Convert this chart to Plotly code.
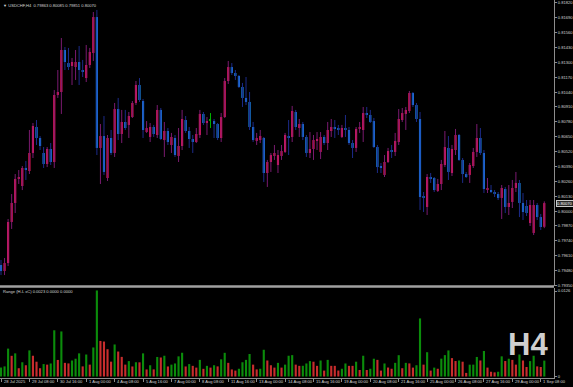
import plotly.graph_objects as go

# ---------------- data (USDCHF, H4) ----------------
opens = [0.79529, 0.79476, 0.79546, 0.79905, 0.80071, 0.80281, 0.80219, 0.80377, 0.80350, 0.80508,
         0.80735, 0.80639, 0.80508, 0.80412, 0.80543, 0.80429, 0.81015, 0.81041, 0.81408, 0.81294,
         0.81268, 0.81259, 0.81303, 0.81233, 0.81163, 0.81277, 0.81382, 0.81696, 0.80552, 0.80656,
         0.80289, 0.80639, 0.80508, 0.80892, 0.80674, 0.80779, 0.80753, 0.80822, 0.80945, 0.81102,
         0.80962, 0.80691, 0.80648, 0.80735, 0.80665, 0.80884, 0.80621, 0.80700, 0.80578, 0.80639,
         0.80482, 0.80569, 0.80796, 0.80700, 0.80630, 0.80604, 0.80665, 0.80849, 0.80770, 0.80796,
         0.80787, 0.80761, 0.80639, 0.80822, 0.81137, 0.81259, 0.81207, 0.81181, 0.81085, 0.80989,
         0.80954, 0.80735, 0.80613, 0.80621, 0.80639, 0.80333, 0.80429, 0.80482, 0.80403, 0.80482,
         0.80517, 0.80656, 0.80648, 0.80866, 0.80726, 0.80761, 0.80648, 0.80508, 0.80543, 0.80613,
         0.80517, 0.80648, 0.80595, 0.80700, 0.80735, 0.80726, 0.80648, 0.80726, 0.80709, 0.80595,
         0.80552, 0.80718, 0.80709, 0.80857, 0.80840, 0.80787, 0.80560, 0.80394, 0.80316, 0.80429,
         0.80525, 0.80517, 0.80604, 0.80796, 0.80849, 0.80875, 0.81032, 0.80927, 0.80805, 0.80123,
         0.80036, 0.80298, 0.80289, 0.80176, 0.80237, 0.80403, 0.80552, 0.80333, 0.80534, 0.80665,
         0.80447, 0.80324, 0.80316, 0.80394, 0.80517, 0.80639, 0.80508, 0.80193, 0.80184, 0.80167,
         0.80149, 0.80115, 0.80193, 0.80036, 0.80080, 0.80202, 0.80246, 0.80071, 0.80045, 0.79896,
         0.79809, 0.80053, 0.79948, 0.79863]
highs = [0.79573, 0.79590, 0.79931, 0.80149, 0.80324, 0.80359, 0.80394, 0.80438, 0.80709, 0.80770,
         0.80796, 0.80656, 0.80560, 0.80560, 0.80595, 0.81058, 0.81233, 0.81513, 0.81434, 0.81426,
         0.81338, 0.81408, 0.81443, 0.81321, 0.81452, 0.81426, 0.81740, 0.81758, 0.80761, 0.80831,
         0.80665, 0.80709, 0.80945, 0.80989, 0.80884, 0.80884, 0.80866, 0.80962, 0.81137, 0.81163,
         0.80980, 0.80787, 0.80770, 0.80753, 0.80927, 0.80901, 0.80779, 0.80726, 0.80683, 0.80665,
         0.80726, 0.80884, 0.80831, 0.80735, 0.80665, 0.80726, 0.80884, 0.80866, 0.80822, 0.80857,
         0.80805, 0.80770, 0.80857, 0.81163, 0.81312, 0.81294, 0.81233, 0.81190, 0.81120, 0.81172,
         0.81041, 0.80779, 0.80683, 0.80709, 0.80648, 0.80447, 0.80508, 0.80578, 0.80534, 0.80578,
         0.80683, 0.80796, 0.80919, 0.80884, 0.80805, 0.80779, 0.80665, 0.80691, 0.80665, 0.80691,
         0.80691, 0.80665, 0.80779, 0.80805, 0.80796, 0.80753, 0.80753, 0.80840, 0.80735, 0.80621,
         0.80735, 0.80779, 0.80910, 0.80910, 0.80884, 0.80814, 0.80578, 0.80420, 0.80490, 0.80552,
         0.80578, 0.80683, 0.80892, 0.80901, 0.80910, 0.81050, 0.81041, 0.80945, 0.80866, 0.80167,
         0.80324, 0.80333, 0.80298, 0.80281, 0.80447, 0.80700, 0.80656, 0.80578, 0.80718, 0.80674,
         0.80464, 0.80342, 0.80420, 0.80552, 0.80761, 0.80726, 0.80534, 0.80289, 0.80228, 0.80184,
         0.80167, 0.80228, 0.80211, 0.80228, 0.80272, 0.80342, 0.80272, 0.80158, 0.80097, 0.80097,
         0.80097, 0.80071, 0.79975, 0.80085]
lows = [0.79441, 0.79441, 0.79520, 0.79844, 0.79983, 0.80237, 0.80184, 0.80272, 0.80324, 0.80464,
        0.80578, 0.80534, 0.80377, 0.80385, 0.80403, 0.80377, 0.80989, 0.80849, 0.81233, 0.81233,
        0.81102, 0.81146, 0.81102, 0.81172, 0.81128, 0.81251, 0.81312, 0.80490, 0.80237, 0.80316,
        0.80263, 0.80490, 0.80473, 0.80621, 0.80595, 0.80709, 0.80639, 0.80814, 0.80927, 0.80954,
        0.80639, 0.80683, 0.80604, 0.80648, 0.80639, 0.80621, 0.80473, 0.80578, 0.80508, 0.80473,
        0.80429, 0.80534, 0.80683, 0.80552, 0.80508, 0.80595, 0.80639, 0.80753, 0.80665, 0.80726,
        0.80639, 0.80621, 0.80604, 0.80814, 0.81111, 0.81190, 0.81146, 0.81076, 0.80910, 0.80927,
        0.80709, 0.80604, 0.80578, 0.80595, 0.80254, 0.80211, 0.80342, 0.80447, 0.80333, 0.80447,
        0.80508, 0.80490, 0.80604, 0.80709, 0.80648, 0.80621, 0.80473, 0.80464, 0.80447, 0.80534,
        0.80455, 0.80578, 0.80534, 0.80648, 0.80639, 0.80665, 0.80639, 0.80648, 0.80578, 0.80464,
        0.80517, 0.80683, 0.80604, 0.80814, 0.80770, 0.80552, 0.80333, 0.80333, 0.80298, 0.80420,
        0.80464, 0.80482, 0.80578, 0.80779, 0.80709, 0.80857, 0.80910, 0.80779, 0.80010, 0.79992,
        0.79966, 0.80246, 0.80167, 0.80167, 0.80184, 0.80385, 0.80272, 0.80307, 0.80490, 0.80438,
        0.80246, 0.80289, 0.80246, 0.80377, 0.80473, 0.80490, 0.80158, 0.80158, 0.80158, 0.80123,
        0.80097, 0.79931, 0.79983, 0.79966, 0.80027, 0.80167, 0.79948, 0.79922, 0.79957, 0.79870,
        0.79791, 0.79922, 0.79835, 0.79851]
closes = [0.79476, 0.79546, 0.79905, 0.80071, 0.80281, 0.80298, 0.80377, 0.80359, 0.80508, 0.80744,
          0.80639, 0.80569, 0.80412, 0.80543, 0.80429, 0.81015, 0.81041, 0.81408, 0.81303, 0.81259,
          0.81303, 0.81303, 0.81233, 0.81216, 0.81277, 0.81391, 0.81696, 0.80552, 0.80656, 0.80342,
          0.80639, 0.80508, 0.80892, 0.80674, 0.80779, 0.80726, 0.80831, 0.80945, 0.81102, 0.80971,
          0.80709, 0.80726, 0.80735, 0.80674, 0.80884, 0.80630, 0.80700, 0.80604, 0.80648, 0.80490,
          0.80569, 0.80805, 0.80700, 0.80630, 0.80604, 0.80674, 0.80849, 0.80770, 0.80787, 0.80796,
          0.80761, 0.80639, 0.80822, 0.81137, 0.81259, 0.81207, 0.81181, 0.81085, 0.80989, 0.80954,
          0.80735, 0.80621, 0.80639, 0.80656, 0.80333, 0.80429, 0.80490, 0.80508, 0.80490, 0.80525,
          0.80665, 0.80648, 0.80875, 0.80735, 0.80761, 0.80648, 0.80508, 0.80543, 0.80621, 0.80630,
          0.80648, 0.80595, 0.80709, 0.80735, 0.80718, 0.80709, 0.80726, 0.80709, 0.80595, 0.80552,
          0.80718, 0.80735, 0.80857, 0.80840, 0.80779, 0.80560, 0.80385, 0.80385, 0.80429, 0.80525,
          0.80517, 0.80613, 0.80805, 0.80857, 0.80884, 0.81032, 0.80927, 0.80805, 0.80123, 0.80115,
          0.80298, 0.80281, 0.80184, 0.80237, 0.80412, 0.80560, 0.80342, 0.80543, 0.80665, 0.80447,
          0.80324, 0.80298, 0.80403, 0.80517, 0.80639, 0.80508, 0.80193, 0.80202, 0.80167, 0.80149,
          0.80115, 0.80202, 0.80036, 0.80071, 0.80202, 0.80246, 0.80071, 0.79992, 0.79983, 0.80053,
          0.80053, 0.79948, 0.79861, 0.80070]

time_labels = ["28 Jul 2025", "29 Jul 08:00", "30 Jul 16:00", "1 Aug 00:00", "4 Aug 08:00",
               "5 Aug 16:00", "7 Aug 00:00", "8 Aug 08:00", "11 Aug 16:00", "13 Aug 00:00",
               "14 Aug 08:00", "15 Aug 16:00", "19 Aug 00:00", "20 Aug 08:00", "21 Aug 16:00",
               "25 Aug 00:00", "26 Aug 08:00", "27 Aug 16:00", "29 Aug 00:00", "1 Sep 08:00"]
label_step = 8
price_ticks = [0.79350, 0.79480, 0.79610, 0.79740, 0.79870, 0.80000, 0.80130, 0.80260, 0.80390, 0.80520,
               0.80650, 0.80780, 0.80910, 0.81040, 0.81170, 0.81300, 0.81430, 0.81560, 0.81690, 0.81820]
range_ticks = [0, 0.0126]
range_tick_text = ["0", "0.0126"]
symbol_title = "USDCHF,H4"

# ---------------- styles ----------------
BULL = "#f0185a"
BEAR = "#1e90ff"
BULL_WICK = "#7a1a70"
BEAR_WICK = "#1c2b8a"
DOJI = "#00b000"
HIST_UP = "#0b8c0b"
HIST_DN = "#c82d2d"
TXT = "#d4d4d4"
AXIS = "#8c8c8c"
FONT = "Liberation Sans"
FS = 4.1

n = len(opens)
idx = list(range(n))
ranges = [h - l for h, l in zip(highs, lows)]
hist_colors = [HIST_UP if (i == 0 or ranges[i] > ranges[i - 1]) else HIST_DN for i in range(n)]

min_body = 0.00009
bx = {"bull": [], "bear": [], "doji": []}
bb = {"bull": [], "bear": [], "doji": []}
bh = {"bull": [], "bear": [], "doji": []}
wx = {"bull": [], "bear": [], "doji": []}
wy = {"bull": [], "bear": [], "doji": []}
for i in idx:
    o, h, l, c = opens[i], highs[i], lows[i], closes[i]
    kind = "bull" if c > o else ("bear" if c < o else "doji")
    lo_b = min(o, c)
    hgt = abs(c - o)
    if hgt < min_body:
        lo_b = (o + c) / 2 - min_body / 2
        hgt = min_body
    bx[kind].append(i)
    bb[kind].append(lo_b)
    bh[kind].append(hgt)
    wx[kind] += [i, i, None]
    wy[kind] += [l, h, None]

fig = go.Figure()
wick_col = {"bull": BULL_WICK, "bear": BEAR_WICK, "doji": DOJI}
body_col = {"bull": BULL, "bear": BEAR, "doji": DOJI}
for k in ["bull", "bear", "doji"]:
    fig.add_trace(go.Scatter(x=wx[k], y=wy[k], mode="lines", line=dict(color=wick_col[k], width=1),
                             hoverinfo="skip", yaxis="y"))
for k in ["bull", "bear", "doji"]:
    fig.add_trace(go.Bar(x=bx[k], y=bh[k], base=bb[k], width=0.6 if k != "doji" else 0.3,
                         marker=dict(color=body_col[k], line=dict(width=0)), yaxis="y"))

fig.add_trace(go.Bar(x=idx, y=ranges, width=0.6, marker=dict(color=hist_colors, line=dict(width=0)),
                     yaxis="y2"))

bid = closes[-1]
fig.add_hline(y=bid, line=dict(color="#5a5a5a", width=1), yref="y")

px_per_bar = 3.551
x_left = -1.0 / px_per_bar
x_right = x_left + 554 / px_per_bar

tickvals = [k * label_step for k in range(len(time_labels))]
annotations = []
for tv, tl in zip(tickvals, time_labels):
    annotations.append(dict(x=tv, xref="x", y=-0.0095, yref="paper", text=tl, showarrow=False,
                            xanchor="left", yanchor="middle", xshift=0.5,
                            font=dict(family=FONT, size=FS, color=TXT)))
annotations.append(dict(x=0, xref="paper", y=1, yref="paper", yanchor="top", xanchor="left",
                        yshift=-1, xshift=1,
                        text="\u25bc " + symbol_title + "  %.5f %.5f %.5f %.5f" % (opens[-1], highs[-1], lows[-1], closes[-1]),
                        showarrow=False, font=dict(family=FONT, size=FS, color=TXT)))
annotations.append(dict(x=0, xref="paper", y=(378 - 291) / 378, yref="paper", yanchor="middle", xanchor="left",
                        xshift=1,
                        text="Range (H-L xC) %.4f 0.0000 0.0000" % ranges[-1],
                        showarrow=False, font=dict(family=FONT, size=FS, color=TXT)))
annotations.append(dict(x=1, xref="paper", y=bid, yref="y", xanchor="left", yanchor="middle", xshift=2,
                        text="%.5f" % bid, showarrow=False, bgcolor="#2a2a2a", bordercolor="#c8c8c8",
                        borderwidth=1, borderpad=0, font=dict(family=FONT, size=FS, color="#ffffff")))
annotations.append(dict(x=(527.5) / 554, xref="paper", y=(378 - 344.5) / 378, yref="paper",
                        xanchor="center", yanchor="middle", text="<b>H4</b>", showarrow=False,
                        font=dict(family=FONT, size=31, color="#cfcfcf")))

fig.update_layout(
    template="none",
    width=573, height=387,
    margin=dict(l=0, r=19, t=0, b=9, pad=0),
    paper_bgcolor="black", plot_bgcolor="black",
    showlegend=False, barmode="overlay",
    xaxis=dict(domain=[0, 1], range=[x_left, x_right], anchor="y2", showgrid=False, zeroline=False,
               showline=True, linecolor=AXIS, linewidth=1, ticks="outside", ticklen=3, tickcolor=AXIS,
               tickvals=tickvals, showticklabels=False, automargin=False, fixedrange=True),
    yaxis=dict(domain=[(378 - 286) / 378, 1], range=[0.81845 - 286 * 0.0000874, 0.81845], side="right",
               anchor="x", showgrid=False, zeroline=False, showline=True, linecolor=AXIS, linewidth=1,
               ticks="outside", ticklen=2, tickcolor=AXIS, tickvals=price_ticks, tickformat=".5f",
               ticklabelstandoff=0,
               tickfont=dict(family=FONT, size=FS, color=TXT), automargin=False),
    yaxis2=dict(domain=[0, (378 - 288) / 378], range=[-1.5 / 6786, 0.0126 + 3 / 6786], side="right",
                anchor="x", showgrid=False, zeroline=False, showline=True, linecolor=AXIS, linewidth=1,
                ticks="outside", ticklen=2, tickcolor=AXIS, tickvals=range_ticks, ticktext=range_tick_text,
                ticklabelstandoff=0,
                tickfont=dict(family=FONT, size=FS, color=TXT), automargin=False),
    annotations=annotations,
    shapes=[dict(type="line", xref="paper", yref="paper", x0=0, x1=1, y0=(378 - 286.5) / 378,
                 y1=(378 - 286.5) / 378, line=dict(color="#a0a0a0", width=2.5))],
)

fig.write_html("out.html")
